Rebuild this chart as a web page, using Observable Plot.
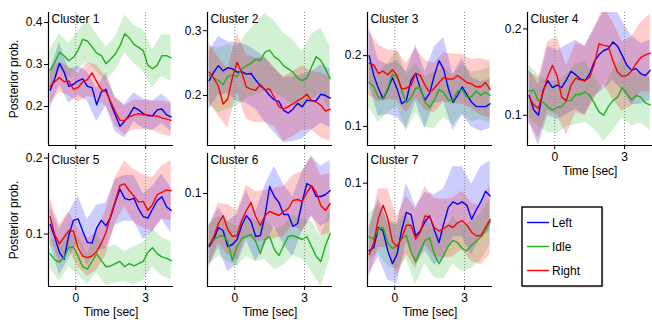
<!DOCTYPE html>
<html><head><meta charset="utf-8">
<script src="https://cdn.jsdelivr.net/npm/d3@7"></script>
<script src="https://cdn.jsdelivr.net/npm/@observablehq/plot@0.6"></script>
<style>
body{margin:0;background:#fff;}
#root{position:relative;width:652px;height:322px;overflow:hidden;background:#fff;font-family:"Liberation Sans",Arial,sans-serif;}
#root svg{position:absolute;}
</style></head><body><div id="root"></div>
<script>
const time = [-1.1,-0.9,-0.7,-0.5,-0.3,-0.1,0.1,0.3,0.5,0.7,0.9,1.1,1.3,1.5,1.7,1.9,2.1,2.3,2.5,2.7,2.9,3.1,3.3,3.5,3.7,3.9,4.1];
const series = ["Left","Idle","Right"];
const colors = ["#0000ff","#1fb21f","#ff0000"];
const clusterNames = ["Cluster 1","Cluster 2","Cluster 3","Cluster 4","Cluster 5","Cluster 6","Cluster 7"];
const xTicks = [0,3];
const eventTimes = [0,3];
const xLabel = "Time [sec]";
const yLabel = "Posterior prob.";
const xDomain = [-1.17,4.2];
const yDomains = [[0.107,0.424],[0.123,0.328],[0.073,0.261],[0.065,0.219],[0.031,0.206],[0.007,0.140],[0.0115,0.1254]];
const yTicks = [[0.2,0.3,0.4],[0.2,0.3],[0.1,0.2],[0.1,0.2],[0.1,0.2],[0.1],[0.1]];

const c1Left  = [0.239,0.266,0.303,0.282,0.248,0.253,0.261,0.266,0.248,0.245,0.204,0.235,0.241,0.208,0.180,0.153,0.165,0.180,0.198,0.192,0.183,0.178,0.178,0.192,0.194,0.180,0.175];
const c1Idle  = [0.286,0.305,0.329,0.321,0.309,0.317,0.334,0.360,0.356,0.342,0.327,0.321,0.302,0.313,0.325,0.345,0.373,0.364,0.348,0.341,0.333,0.298,0.290,0.298,0.321,0.321,0.316];
const c1Right = [0.248,0.259,0.269,0.259,0.261,0.241,0.245,0.259,0.264,0.280,0.259,0.241,0.235,0.212,0.188,0.167,0.167,0.175,0.180,0.183,0.180,0.180,0.178,0.177,0.173,0.170,0.167];
const c2Left  = [0.223,0.236,0.246,0.238,0.243,0.241,0.236,0.237,0.233,0.234,0.224,0.215,0.209,0.200,0.193,0.191,0.177,0.173,0.179,0.188,0.183,0.193,0.192,0.192,0.202,0.200,0.196];
const c2Idle  = [0.231,0.227,0.223,0.217,0.229,0.232,0.229,0.241,0.246,0.250,0.256,0.254,0.267,0.270,0.260,0.255,0.246,0.241,0.236,0.227,0.223,0.227,0.244,0.260,0.254,0.241,0.226];
const c2Right = [0.236,0.227,0.214,0.187,0.195,0.228,0.251,0.236,0.213,0.210,0.208,0.217,0.209,0.210,0.197,0.183,0.179,0.183,0.187,0.192,0.196,0.202,0.192,0.190,0.185,0.176,0.179];
const c3Left  = [0.200,0.172,0.154,0.139,0.152,0.169,0.153,0.132,0.137,0.165,0.175,0.153,0.137,0.147,0.172,0.193,0.181,0.154,0.134,0.144,0.156,0.145,0.134,0.128,0.128,0.128,0.132];
const c3Idle  = [0.162,0.156,0.141,0.139,0.154,0.174,0.169,0.151,0.133,0.141,0.154,0.155,0.134,0.127,0.137,0.152,0.148,0.137,0.137,0.150,0.152,0.141,0.142,0.150,0.144,0.148,0.144];
const c3Right = [0.189,0.187,0.175,0.178,0.173,0.180,0.172,0.153,0.154,0.158,0.175,0.172,0.158,0.148,0.154,0.162,0.169,0.167,0.167,0.172,0.167,0.162,0.160,0.156,0.156,0.162,0.152];
const c4Left  = [0.123,0.106,0.100,0.129,0.140,0.132,0.135,0.132,0.141,0.151,0.147,0.142,0.140,0.148,0.162,0.170,0.175,0.177,0.185,0.180,0.169,0.158,0.152,0.154,0.148,0.146,0.152];
const c4Idle  = [0.128,0.129,0.117,0.115,0.110,0.106,0.109,0.110,0.117,0.117,0.124,0.124,0.127,0.123,0.114,0.104,0.100,0.110,0.117,0.121,0.132,0.125,0.118,0.123,0.121,0.114,0.112];
const c4Right = [0.121,0.112,0.108,0.127,0.145,0.158,0.146,0.121,0.117,0.135,0.143,0.141,0.140,0.144,0.159,0.183,0.181,0.180,0.163,0.150,0.145,0.146,0.151,0.160,0.167,0.170,0.172];
const c5Left  = [0.113,0.096,0.076,0.067,0.098,0.118,0.120,0.104,0.089,0.088,0.108,0.118,0.111,0.122,0.142,0.159,0.147,0.145,0.147,0.133,0.123,0.121,0.133,0.144,0.149,0.136,0.131];
const c5Idle  = [0.074,0.066,0.063,0.069,0.082,0.083,0.071,0.057,0.054,0.064,0.074,0.065,0.057,0.058,0.061,0.064,0.057,0.061,0.058,0.061,0.064,0.076,0.082,0.074,0.070,0.068,0.065];
const c5Right = [0.123,0.099,0.087,0.096,0.104,0.104,0.082,0.071,0.069,0.071,0.077,0.088,0.102,0.124,0.144,0.164,0.166,0.157,0.150,0.142,0.143,0.131,0.139,0.152,0.155,0.158,0.157];
const c6Left  = [0.047,0.054,0.066,0.063,0.047,0.049,0.054,0.068,0.078,0.072,0.057,0.058,0.078,0.107,0.097,0.091,0.079,0.079,0.067,0.070,0.092,0.110,0.107,0.097,0.097,0.099,0.103];
const c6Idle  = [0.049,0.054,0.057,0.058,0.052,0.033,0.047,0.055,0.057,0.059,0.052,0.040,0.054,0.057,0.044,0.038,0.048,0.057,0.058,0.056,0.054,0.057,0.047,0.037,0.032,0.048,0.060];
const c6Right = [0.048,0.057,0.070,0.078,0.064,0.057,0.058,0.073,0.083,0.091,0.077,0.068,0.078,0.082,0.080,0.078,0.082,0.085,0.093,0.094,0.092,0.101,0.108,0.101,0.088,0.083,0.090];
const c7Left  = [0.042,0.045,0.062,0.059,0.042,0.031,0.039,0.060,0.075,0.073,0.055,0.059,0.067,0.072,0.060,0.049,0.065,0.079,0.084,0.082,0.084,0.081,0.069,0.077,0.084,0.093,0.089];
const c7Idle  = [0.054,0.052,0.061,0.062,0.049,0.044,0.046,0.053,0.055,0.041,0.033,0.042,0.051,0.053,0.039,0.031,0.038,0.046,0.051,0.049,0.044,0.042,0.047,0.050,0.054,0.059,0.067];
const c7Right = [0.039,0.049,0.070,0.081,0.070,0.050,0.046,0.053,0.064,0.064,0.052,0.058,0.072,0.071,0.062,0.059,0.061,0.064,0.062,0.066,0.068,0.064,0.058,0.055,0.055,0.062,0.069];

// band half-widths at every second time point
const c1LeftHw  = [0.045,0.05,0.04,0.035,0.035,0.04,0.04,0.04,0.04,0.035,0.035,0.035,0.035,0.035];
const c1IdleHw  = [0.05,0.045,0.04,0.045,0.05,0.045,0.04,0.04,0.045,0.045,0.05,0.045,0.05,0.055];
const c1RightHw = [0.04,0.035,0.035,0.035,0.04,0.04,0.035,0.035,0.035,0.035,0.035,0.035,0.04,0.04];
const c2LeftHw  = [0.045,0.045,0.04,0.045,0.045,0.045,0.05,0.05,0.05,0.05,0.05,0.045,0.045,0.045];
const c2IdleHw  = [0.045,0.05,0.05,0.045,0.05,0.055,0.06,0.055,0.05,0.05,0.045,0.05,0.05,0.05];
const c2RightHw = [0.045,0.045,0.045,0.045,0.05,0.05,0.05,0.045,0.05,0.05,0.05,0.045,0.05,0.05];
const c3LeftHw  = [0.04,0.04,0.035,0.04,0.04,0.04,0.04,0.04,0.045,0.04,0.04,0.035,0.035,0.035];
const c3IdleHw  = [0.035,0.035,0.035,0.04,0.04,0.035,0.035,0.04,0.035,0.035,0.035,0.035,0.035,0.04];
const c3RightHw = [0.045,0.04,0.035,0.035,0.035,0.035,0.035,0.035,0.035,0.035,0.035,0.035,0.04,0.04];
const c4LeftHw  = [0.03,0.035,0.04,0.04,0.04,0.04,0.04,0.04,0.045,0.045,0.04,0.04,0.035,0.035];
const c4IdleHw  = [0.03,0.03,0.03,0.03,0.03,0.035,0.035,0.03,0.03,0.035,0.035,0.03,0.03,0.03];
const c4RightHw = [0.03,0.035,0.04,0.045,0.04,0.04,0.04,0.04,0.045,0.045,0.04,0.04,0.04,0.045];
const c5LeftHw  = [0.025,0.03,0.03,0.03,0.03,0.03,0.03,0.03,0.03,0.03,0.03,0.03,0.03,0.03];
const c5IdleHw  = [0.02,0.025,0.025,0.025,0.02,0.025,0.025,0.025,0.02,0.025,0.025,0.025,0.025,0.025];
const c5RightHw = [0.025,0.025,0.025,0.025,0.025,0.025,0.03,0.03,0.03,0.035,0.035,0.035,0.035,0.04];
const c6LeftHw  = [0.02,0.02,0.025,0.025,0.025,0.025,0.03,0.03,0.03,0.03,0.03,0.03,0.03,0.03];
const c6IdleHw  = [0.02,0.02,0.02,0.02,0.02,0.02,0.02,0.02,0.02,0.02,0.02,0.025,0.025,0.025];
const c6RightHw = [0.02,0.02,0.025,0.025,0.025,0.025,0.025,0.025,0.025,0.025,0.03,0.03,0.03,0.03];
const c7LeftHw  = [0.02,0.025,0.025,0.025,0.025,0.025,0.025,0.03,0.03,0.03,0.03,0.03,0.03,0.03];
const c7IdleHw  = [0.02,0.02,0.02,0.02,0.02,0.02,0.02,0.02,0.02,0.02,0.02,0.02,0.02,0.02];
const c7RightHw = [0.02,0.025,0.025,0.025,0.025,0.025,0.025,0.025,0.025,0.025,0.025,0.025,0.025,0.03];

const lineSets = [[c1Left,c1Idle,c1Right],[c2Left,c2Idle,c2Right],[c3Left,c3Idle,c3Right],[c4Left,c4Idle,c4Right],[c5Left,c5Idle,c5Right],[c6Left,c6Idle,c6Right],[c7Left,c7Idle,c7Right]];
const hwSets = [[c1LeftHw,c1IdleHw,c1RightHw],[c2LeftHw,c2IdleHw,c2RightHw],[c3LeftHw,c3IdleHw,c3RightHw],[c4LeftHw,c4IdleHw,c4RightHw],[c5LeftHw,c5IdleHw,c5RightHw],[c6LeftHw,c6IdleHw,c6RightHw],[c7LeftHw,c7IdleHw,c7RightHw]];

const root = document.getElementById("root");
const frameW = 125, frameH = 133;
const colLeft = [48,207,367,527], rowTop = [12,153];
const ML = 45, MR = 6, MT = 6, MB = 36;
const font = '"Liberation Sans", Arial, Helvetica, sans-serif';

for (let k = 0; k < 7; k++) {
  const row = k < 4 ? 0 : 1, col = k < 4 ? k : k - 4;
  const lines = [], bands = [];
  series.forEach((s, j) => {
    lineSets[k][j].forEach((v, i) => lines.push({t: time[i], v, s}));
    hwSets[k][j].forEach((h, i) => {
      const c = lineSets[k][j][2 * i];
      bands.push({t: time[2 * i], lo: c - h, hi: c + h, s});
    });
  });
  const showX = k >= 3;
  const showY = (k === 0 || k === 4);
  const marks = [
    Plot.areaY(bands, {x: "t", y1: "lo", y2: "hi", fill: "s", fillOpacity: 0.2, clip: true}),
    Plot.ruleX(eventTimes, {stroke: "#888", strokeDasharray: "1,2", strokeWidth: 1}),
    Plot.lineY(lines, {x: "t", y: "v", stroke: "s", strokeWidth: 1.4, clip: true}),
    Plot.ruleX([xDomain[0]], {stroke: "#000", strokeWidth: 1.2}),
    Plot.ruleY([yDomains[k][0]], {stroke: "#000", strokeWidth: 1.2}),
    Plot.text([clusterNames[k]], {frameAnchor: "top-left", dx: 3, dy: 2, fontSize: 12, fill: "#000"})
  ];
  if (showX) marks.push(Plot.text([xLabel], {frameAnchor: "bottom", dy: 26, lineAnchor: "middle", fontSize: 12, fill: "#000"}));
  if (showY) marks.push(Plot.text([yLabel], {frameAnchor: "left", dx: -34, rotate: -90, textAnchor: "middle", lineAnchor: "middle", fontSize: 12, fill: "#000"}));
  const chart = Plot.plot({
    width: ML + frameW + MR, height: MT + frameH + MB,
    marginLeft: ML, marginRight: MR, marginTop: MT, marginBottom: MB,
    style: {background: "transparent", fontFamily: font, fontSize: "12px", color: "#000", overflow: "visible"},
    x: {domain: xDomain, ticks: xTicks, tickSize: 4, tickPadding: 3,
        tickFormat: showX ? (d => String(d)) : (() => ""), label: null},
    y: {domain: yDomains[k], ticks: yTicks[k], tickSize: 4, tickPadding: 2, tickFormat: ".1f", label: null},
    color: {domain: series, range: colors},
    marks
  });
  chart.style.left = (colLeft[col] - ML) + "px";
  chart.style.top = (rowTop[row] - MT) + "px";
  root.appendChild(chart);
}

// legend
const ns = "http://www.w3.org/2000/svg";
const leg = document.createElementNS(ns, "svg");
leg.setAttribute("width", 90); leg.setAttribute("height", 90);
leg.style.left = "518px"; leg.style.top = "203px";
let html = '<rect x="5.5" y="5.5" width="80" height="79" fill="#aaa" opacity="0.5"/>' +
           '<rect x="4" y="4" width="80" height="79" fill="#fff" stroke="#000" stroke-width="1.4"/>';
series.forEach((s, j) => {
  const yy = 19.5 + j * 24;
  html += `<line x1="9" x2="31" y1="${yy}" y2="${yy}" stroke="${colors[j]}" stroke-width="1.4"/>` +
          `<text x="34" y="${yy}" dy="0.35em" font-size="12" font-family='${font}'>${s}</text>`;
});
leg.innerHTML = html;
root.appendChild(leg);
</script></body></html>
